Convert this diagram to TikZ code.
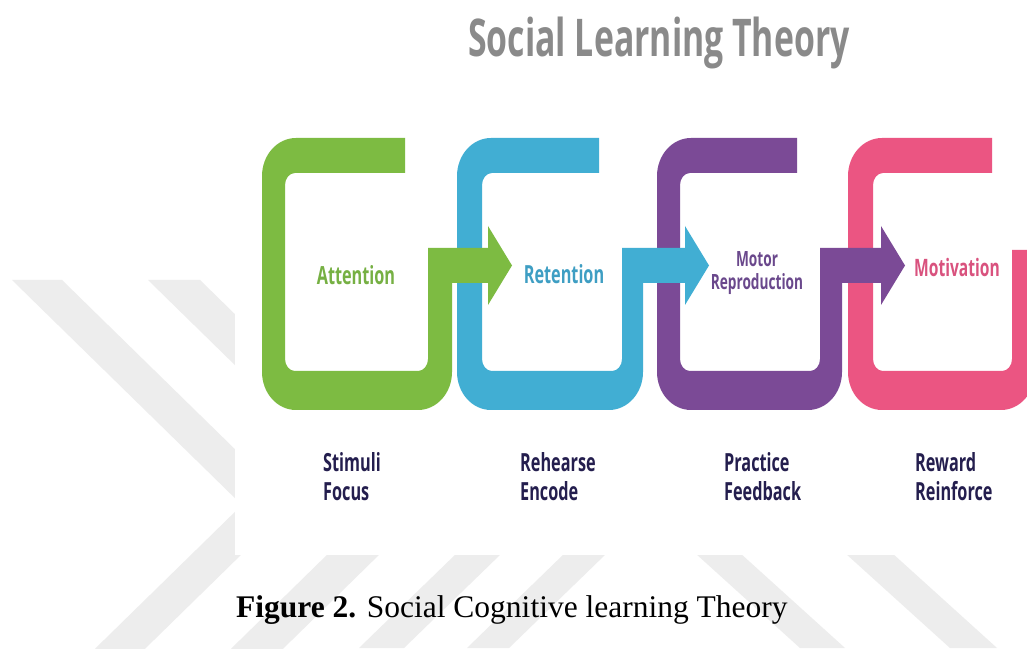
\documentclass[tikz,border=0pt]{standalone}
\usepackage{fontspec}
\usepackage{graphicx}
\newfontfamily\osans{Open Sans}
\newfontfamily\capserif{Liberation Serif}

\definecolor{wmark}{HTML}{EDEDED}
\definecolor{loopgreen}{HTML}{7DBB42}
\definecolor{loopblue}{HTML}{41AED3}
\definecolor{looppurple}{HTML}{7B4A96}
\definecolor{looppink}{HTML}{EB5582}
\definecolor{txtgreen}{HTML}{76B043}
\definecolor{txtblue}{HTML}{3E9EC3}
\definecolor{txtpurple}{HTML}{6A488C}
\definecolor{txtpink}{HTML}{D9527E}
\definecolor{navy}{HTML}{241E4E}
\definecolor{titlegray}{HTML}{8A8A8A}

% horizontally condensed text
\newcommand\condtext[1]{\scalebox{0.65}[1]{#1}}

% one looped band with its outgoing arrow
% #1 colour, #2 outer left, #3 inner left, #4 inner right, #5 outer right,
% #6 end of the top bar, #7 base of the arrow head
\newcommand\loopband[7]{%
  \fill[#1] (#6,510) -- (#2+34,510)
    arc[start angle=90,end angle=180,x radius=34pt,y radius=38pt]
    -- (#2,276)
    arc[start angle=180,end angle=270,x radius=34pt,y radius=38pt]
    -- (#5-34,238)
    arc[start angle=270,end angle=360,x radius=34pt,y radius=38pt]
    -- (#5,365) -- (#7,365) -- (#7,343) -- (#7+24,382.5) -- (#7,422) -- (#7,400)
    -- (#4,400) -- (#4,289)
    arc[start angle=0,end angle=-90,x radius=10pt,y radius=12pt]
    -- (#3+10,277)
    arc[start angle=270,end angle=180,x radius=10pt,y radius=12pt]
    -- (#3,463)
    arc[start angle=180,end angle=90,x radius=10pt,y radius=12pt]
    -- (#6,475) -- cycle;}

\tikzset{
  steplabel/.style={inner sep=0pt, anchor=base, font=\osans\bfseries\fontsize{25}{30}\selectfont},
  sublabel/.style={inner sep=0pt, anchor=base west, text=navy, font=\osans\bfseries\fontsize{25}{30}\selectfont},
  stripe/.style={fill=wmark},
}

\begin{document}
\begin{tikzpicture}[x=1pt,y=1pt]
\clip (0,0) rectangle (1027,648);
\fill[white] (0,0) rectangle (1027,648);

% light watermark chevrons and stripes
\fill[stripe] (12,368) -- (62,368) -- (292,143) -- (62,-82) -- (12,-82) -- (242,143) -- cycle;
\fill[stripe] (148,368) -- (200,368) -- (430,143) -- (200,-82) -- (148,-82) -- (378,143) -- cycle;
\fill[stripe] (359,0) -- (404,0) -- (502,95) -- (457,95) -- cycle;
\fill[stripe] (467,0) -- (509,0) -- (607,95) -- (565,95) -- cycle;
\fill[stripe] (800,0) -- (845,0) -- (740,95) -- (695,95) -- cycle;
\fill[stripe] (950,0) -- (997,0) -- (892,95) -- (845,95) -- cycle;

% white panel of the diagram
\fill[white] (235,93) rectangle (1027,648);

% title
\node[inner sep=0pt, anchor=base, text=titlegray,
      font=\osans\bfseries\fontsize{52}{60}\selectfont] (title) at (659,591)
      {\condtext{Social Learning Theory}};

% bands, drawn right to left so each arrow lies over the next band
\fill[looppink] (992,510) -- (848+34,510)
    arc[start angle=90,end angle=180,x radius=34pt,y radius=38pt]
    -- (848,276)
    arc[start angle=180,end angle=270,x radius=34pt,y radius=38pt]
    -- (1035-34,238)
    arc[start angle=270,end angle=360,x radius=34pt,y radius=38pt]
    -- (1035,398) -- (1012,398) -- (1012,289)
    arc[start angle=0,end angle=-90,x radius=10pt,y radius=12pt]
    -- (873+10,277)
    arc[start angle=270,end angle=180,x radius=10pt,y radius=12pt]
    -- (873,463)
    arc[start angle=180,end angle=90,x radius=10pt,y radius=12pt]
    -- (992,475) -- cycle;
\loopband{looppurple}{657}{680}{820}{842}{797}{881}
\loopband{loopblue}{457}{482}{622}{643}{599}{685}
\loopband{loopgreen}{262}{285}{428}{452}{405}{488}

% step names
\node[steplabel, text=txtgreen] (att) at (356,363) {\condtext{Attention}};
\node[steplabel, text=txtblue] (ret) at (564,364) {\condtext{Retention}};
\node[steplabel, text=txtpurple, font=\osans\bfseries\fontsize{21}{25}\selectfont] (mot1) at (757,381) {\condtext{Motor}};
\node[steplabel, text=txtpurple, font=\osans\bfseries\fontsize{21}{25}\selectfont] (mot2) at (757,358) {\condtext{Reproduction}};
\node[steplabel, text=txtpink, font=\osans\bfseries\fontsize{24}{28}\selectfont] (motiv) at (957,371) {\condtext{Motivation}};

% keywords under each step
\node[sublabel] (s1a) at (323,176) {\condtext{Stimuli}};
\node[sublabel] (s1b) at (323,148) {\condtext{Focus}};
\node[sublabel] (s2a) at (520,176) {\condtext{Rehearse}};
\node[sublabel] (s2b) at (520,148) {\condtext{Encode}};
\node[sublabel] (s3a) at (724,176) {\condtext{Practice}};
\node[sublabel] (s3b) at (724,148) {\condtext{Feedback}};
\node[sublabel] (s4a) at (915,176) {\condtext{Reward}};
\node[sublabel] (s4b) at (915,148) {\condtext{Reinforce}};

% caption
\node[inner sep=0pt, anchor=base west, font=\capserif\fontsize{31.5}{36}\selectfont] (caption) at (236,31)
      {\textbf{Figure 2.} Social Cognitive learning Theory};
\end{tikzpicture}
\end{document}
